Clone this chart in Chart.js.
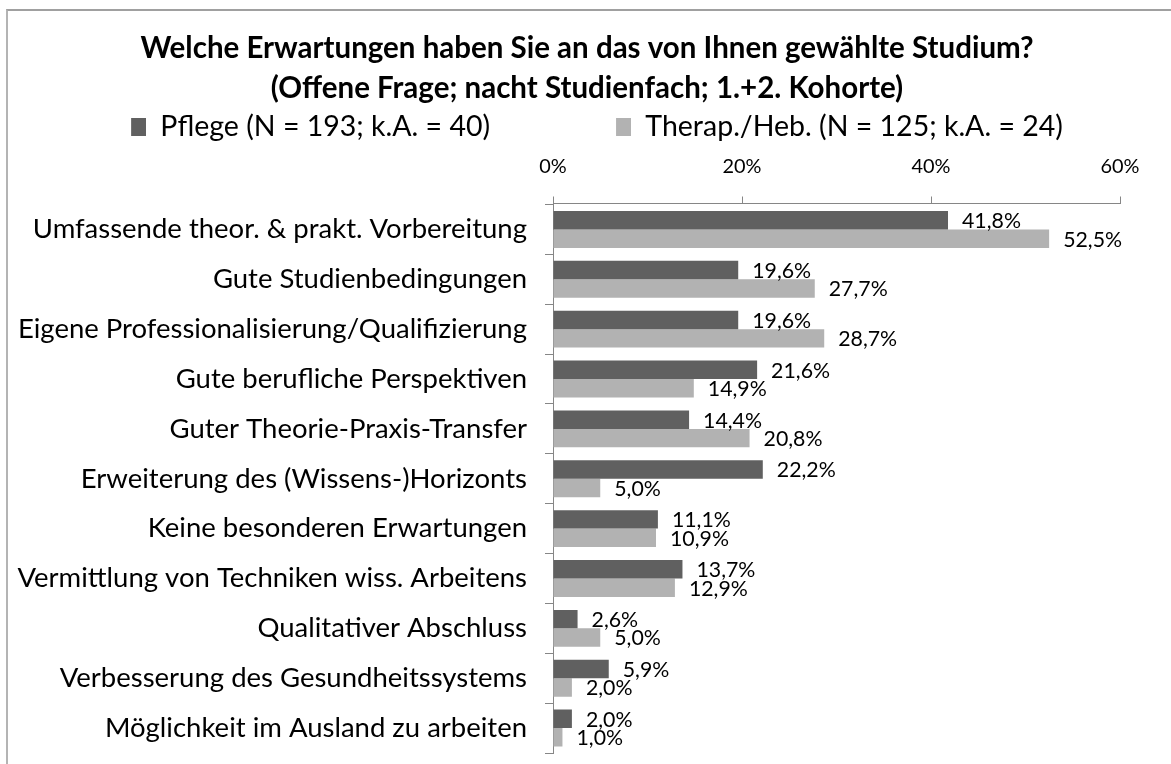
<!DOCTYPE html>
<html>
<head>
<meta charset="utf-8">
<script src="https://cdn.jsdelivr.net/npm/chart.js@4.4.0/dist/chart.umd.min.js"></script>
<style>
  html, body { margin: 0; padding: 0; background: #ffffff; }
  #wrap { position: relative; width: 1171px; height: 764px; overflow: hidden; }
  #frame { position: absolute; left: 6px; top: 9px; width: 1200px; height: 800px;
           border-top: 2px solid #a0a0a0; border-left: 2px solid #b4b4b4; pointer-events: none; }
  canvas { position: absolute; left: 0; top: 0; }
</style>
</head>
<body>
<div id="wrap">
  <canvas id="c" width="1171" height="764"></canvas>
  <div id="frame"></div>
</div>
<script>
const titleLines = [
  "Welche Erwartungen haben Sie an das von Ihnen gewählte Studium?",
  "(Offene Frage; nacht Studienfach; 1.+2. Kohorte)"
];
const categories = [
  "Umfassende theor. & prakt. Vorbereitung",
  "Gute Studienbedingungen",
  "Eigene Professionalisierung/Qualifizierung",
  "Gute berufliche Perspektiven",
  "Guter Theorie-Praxis-Transfer",
  "Erweiterung des (Wissens-)Horizonts",
  "Keine besonderen Erwartungen",
  "Vermittlung von Techniken wiss. Arbeitens",
  "Qualitativer Abschluss",
  "Verbesserung des Gesundheitssystems",
  "Möglichkeit im Ausland zu arbeiten"
];
const seriesNames = ["Pflege (N = 193; k.A. = 40)", "Therap./Heb. (N = 125; k.A. = 24)"];
const pflege = [41.8, 19.6, 19.6, 21.6, 14.4, 22.2, 11.1, 13.7, 2.6, 5.9, 2.0];
const therap = [52.5, 27.7, 28.7, 14.9, 20.8, 5.0, 10.9, 12.9, 5.0, 2.0, 1.0];
const xTicks = [0, 20, 40, 60];
const seriesColors = ['#606060', '#b2b2b2'];

const FAMILY = "Lato, 'Noto Sans', sans-serif";
const mctx = document.createElement('canvas').getContext('2d');
function fit(text, weight, target) {
  mctx.font = weight + " 100px " + FAMILY;
  return Math.round(100 * target / mctx.measureText(text).width * 10) / 10;
}
const titleSize = fit(titleLines[0], "bold", 893);
const legendSize = fit(seriesNames[0], "normal", 330);
const catSize = fit(categories[0], "normal", 494);
const tickSize = fit("60%", "normal", 39);
const labelSize = fit("41,8%", "normal", 59);

// legend marker images: square at the right end of a wider transparent box
const MARK_W = 35, SQ_W = 15, SQ_H = 18;
function markerImage(color) {
  const c = document.createElement('canvas');
  c.width = MARK_W; c.height = SQ_H;
  const g = c.getContext('2d');
  g.fillStyle = color;
  g.fillRect(MARK_W - SQ_W, 0, SQ_W, SQ_H);
  return c;
}
const markers = seriesColors.map(markerImage);

function fmt(v) { return v.toFixed(1).replace('.', ',') + '%'; }

const dataLabels = {
  id: 'dataLabels',
  afterDatasetsDraw(chart) {
    const ctx = chart.ctx;
    ctx.save();
    ctx.font = labelSize + "px " + FAMILY;
    ctx.fillStyle = "#000000";
    ctx.textBaseline = "middle";
    ctx.textAlign = "left";
    chart.data.datasets.forEach((ds, di) => {
      const meta = chart.getDatasetMeta(di);
      meta.data.forEach((bar, i) => {
        ctx.fillText(fmt(ds.data[i]), bar.x + 14, bar.y + 1);
      });
    });
    ctx.restore();
  }
};

new Chart(document.getElementById('c'), {
  type: 'bar',
  data: {
    labels: categories,
    datasets: [
      { label: seriesNames[0], data: pflege, backgroundColor: seriesColors[0], borderWidth: 0 },
      { label: seriesNames[1], data: therap, backgroundColor: seriesColors[1], borderWidth: 0 }
    ]
  },
  options: {
    indexAxis: 'y',
    responsive: false,
    animation: false,
    layout: { padding: { top: 8, left: 0, right: -3, bottom: 11 } },
    datasets: { bar: { categoryPercentage: 0.74, barPercentage: 1.0 } },
    plugins: {
      title: {
        display: true,
        text: titleLines,
        color: '#000000',
        font: { family: FAMILY, size: titleSize, weight: 'bold', lineHeight: 40 / titleSize },
        padding: { top: 20, bottom: -101 }
      },
      legend: {
        display: true,
        position: 'top',
        labels: {
          color: '#000000',
          font: { family: FAMILY, size: legendSize },
          usePointStyle: true,
          pointStyleWidth: MARK_W,
          boxHeight: SQ_H,
          padding: 106,
          generateLabels(chart) {
            const items = Chart.defaults.plugins.legend.labels.generateLabels(chart);
            items.forEach((it, i) => { it.pointStyle = markers[i]; });
            return items;
          }
        }
      },
      tooltip: { enabled: false }
    },
    scales: {
      x: {
        position: 'top',
        min: 0, max: 60,
        afterBuildTicks(scale) { scale.ticks = xTicks.map(v => ({ value: v })); },
        afterFit(scale) { scale.height = 52; },
        ticks: {
          color: '#000000',
          font: { family: FAMILY, size: tickSize },
          padding: 18,
          callback: v => v + '%'
        },
        grid: { drawOnChartArea: false, drawTicks: true, tickLength: 7, color: '#868686', lineWidth: 1 },
        border: { color: '#868686', width: 1 }
      },
      y: {
        afterFit(scale) { scale.width = 553; scale.paddingTop = 0; scale.paddingBottom = 0; },
        ticks: {
          color: '#000000',
          font: { family: FAMILY, size: catSize },
          padding: 18
        },
        grid: { offset: true, drawOnChartArea: false, drawTicks: true, tickLength: 8, color: '#868686', lineWidth: 1 },
        border: { color: '#868686', width: 1 }
      },
      yRight: {
        type: 'category',
        position: 'right',
        afterFit(scale) { scale.width = 54; scale.paddingTop = 0; scale.paddingBottom = 0; },
        ticks: { display: false },
        grid: { display: false },
        border: { display: false }
      }
    }
  },
  plugins: [dataLabels]
});
</script>
</body>
</html>
